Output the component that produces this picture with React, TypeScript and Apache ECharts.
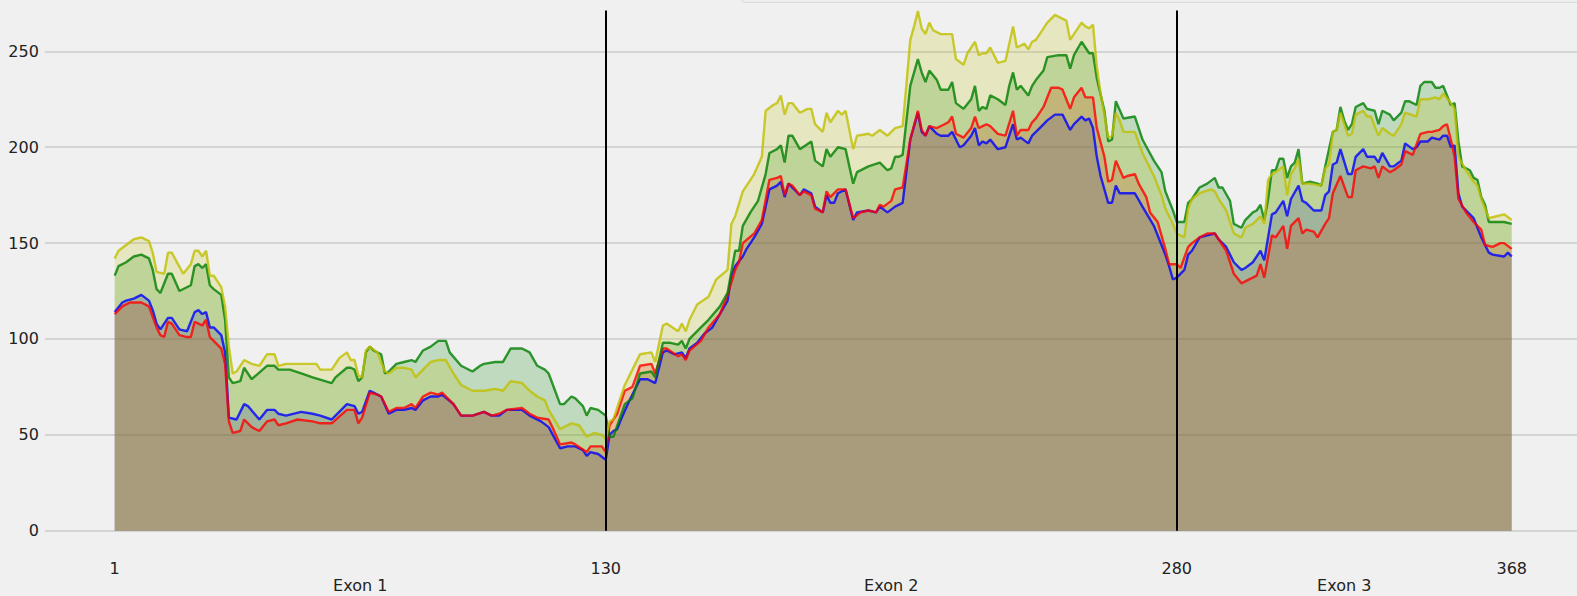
import React, { useEffect, useRef } from "react";
import * as echarts from "echarts";

// x tick labels (positions along the transcript) and exon annotations
const tickPositions = [1, 130, 280, 368];
const exonNames = ["Exon 1", "Exon 2", "Exon 3"];
const exonCenters = [65.5, 205, 324];
const exonBoundaries = [130, 280];

// coverage per position, [position, depth]
const blueCov: [number, number][] = [[1,114],[3,119],[4,120],[6,121],[8,123],[10,120],[11,115],[12,108],[13,105],[15,111],[16,111],[18,105],[20,104],[22,114],[23,115],[24,113],[25,114],[26,106],[27,106],[29,102],[30,93],[31,59],[33,58],[35,66],[36,65],[39,58],[41,63],[43,63],[44,61],[46,60],[50,62],[53,61],[55,60],[58,58],[62,66],[64,65],[65,61],[66,62],[68,73],[69,72],[71,70],[73,61],[75,63],[77,63],[79,64],[80,63],[82,68],[84,70],[86,70],[87,71],[90,66],[92,60],[95,60],[98,62],[100,60],[102,60],[104,63],[108,63],[110,60],[113,57],[115,54],[118,43],[120,44],[122,44],[124,42],[125,39],[126,41],[128,40],[130,37],[131,50],[132,52],[133,53],[134,58],[136,67],[137,71],[139,79],[141,79],[143,77],[145,93],[146,94],[148,92],[150,93],[151,90],[152,95],[154,98],[156,103],[158,106],[160,113],[162,120],[163,133],[164,138],[166,143],[167,147],[169,153],[171,160],[173,178],[175,180],[176,182],[177,174],[178,181],[179,179],[181,175],[182,178],[184,176],[185,169],[187,166],[188,175],[189,171],[190,171],[191,176],[193,178],[195,162],[196,166],[199,167],[201,166],[202,169],[204,166],[206,169],[208,171],[210,204],[212,218],[213,208],[214,206],[215,211],[217,207],[218,206],[220,206],[221,208],[223,200],[224,201],[226,206],[227,210],[228,201],[229,203],[230,202],[231,204],[233,199],[235,200],[237,212],[238,204],[239,205],[241,202],[242,206],[244,210],[246,214],[248,217],[250,217],[252,209],[253,212],[255,216],[256,214],[257,215],[258,210],[259,195],[260,185],[262,171],[263,171],[264,180],[265,176],[269,176],[271,169],[274,159],[276,149],[277,144],[278,138],[279,131],[280,132],[282,136],[283,144],[284,146],[286,153],[288,154],[290,155],[291,152],[293,148],[295,140],[297,136],[298,137],[300,140],[302,146],[303,141],[305,165],[306,166],[308,172],[309,164],[310,173],[312,180],[313,172],[314,171],[316,167],[318,167],[319,175],[320,177],[321,191],[322,192],[323,199],[325,186],[326,186],[327,195],[329,199],[330,195],[332,195],[333,192],[334,197],[336,190],[337,190],[339,193],[340,202],[342,199],[343,200],[344,203],[346,203],[347,205],[349,204],[350,206],[351,206],[352,200],[353,201],[354,176],[355,169],[358,163],[359,158],[360,153],[362,145],[363,144],[366,143],[367,145],[368,143]];

const redCov: [number, number][] = [[1,113],[3,117],[5,119],[8,119],[10,117],[12,106],[13,102],[14,101],[15,109],[16,108],[18,102],[20,101],[21,101],[22,109],[23,108],[24,107],[25,110],[26,101],[27,99],[29,95],[30,87],[31,57],[32,51],[34,52],[35,58],[37,54],[39,52],[41,57],[43,58],[44,55],[46,56],[49,58],[53,57],[55,56],[58,56],[62,63],[64,63],[65,56],[66,59],[68,72],[70,71],[71,70],[73,62],[75,64],[77,64],[79,66],[80,64],[82,70],[84,72],[86,71],[87,72],[90,66],[92,60],[95,60],[98,62],[100,60],[102,61],[104,63],[108,64],[110,61],[112,59],[115,58],[116,54],[118,45],[121,46],[122,45],[125,41],[126,44],[129,44],[130,41],[131,55],[133,61],[135,73],[137,75],[139,86],[142,87],[143,82],[145,95],[146,95],[149,91],[150,92],[151,89],[152,94],[155,99],[157,106],[160,113],[162,123],[164,136],[165,140],[166,150],[169,155],[171,162],[173,183],[175,184],[176,185],[177,175],[178,181],[179,180],[181,175],[182,177],[184,175],[185,168],[187,166],[188,177],[189,174],[191,178],[193,178],[195,163],[197,166],[199,167],[201,166],[202,170],[203,169],[205,172],[206,178],[208,179],[210,204],[212,219],[213,209],[214,206],[215,211],[217,210],[219,212],[220,213],[221,216],[222,207],[224,205],[226,210],[227,216],[228,210],[229,211],[230,212],[231,211],[233,207],[235,206],[237,219],[238,206],[239,209],[241,209],[242,213],[243,215],[245,221],[247,231],[249,231],[250,230],[252,220],[253,226],[255,231],[256,226],[258,226],[259,210],[261,195],[262,182],[263,183],[264,193],[266,184],[267,185],[269,186],[270,181],[272,174],[273,166],[275,161],[277,147],[278,139],[280,139],[281,137],[283,148],[284,150],[286,153],[288,155],[290,155],[291,152],[293,146],[295,134],[297,129],[298,130],[301,133],[302,139],[303,132],[305,154],[306,153],[308,159],[309,147],[310,159],[312,163],[313,155],[314,157],[316,156],[317,153],[319,160],[320,163],[321,176],[323,185],[325,174],[326,174],[327,188],[329,190],[331,189],[332,190],[333,184],[334,190],[336,187],[337,188],[339,191],[340,198],[342,196],[344,207],[346,208],[347,208],[349,209],[350,211],[351,212],[352,204],[353,195],[354,173],[356,166],[358,161],[360,157],[361,149],[363,148],[365,150],[366,150],[368,147]];

const greenCov: [number, number][] = [[1,133],[2,138],[4,140],[6,143],[8,144],[10,142],[11,136],[12,126],[13,124],[15,134],[16,134],[18,125],[21,128],[22,138],[23,139],[24,137],[25,139],[26,128],[27,126],[29,123],[30,110],[31,80],[32,77],[34,78],[35,85],[37,79],[41,86],[43,86],[44,84],[47,84],[50,82],[53,80],[58,77],[59,80],[62,85],[63,85],[64,84],[65,78],[66,80],[67,93],[68,96],[69,94],[71,92],[72,82],[73,83],[75,87],[77,88],[79,89],[80,88],[82,94],[84,96],[86,99],[88,99],[89,93],[92,86],[95,83],[97,86],[98,87],[101,88],[103,88],[105,95],[108,95],[110,93],[112,86],[114,84],[115,82],[118,66],[119,66],[121,70],[122,69],[124,65],[125,60],[126,64],[128,63],[130,60],[131,49],[132,49],[135,66],[137,69],[139,82],[142,83],[143,80],[145,98],[147,98],[149,97],[150,99],[151,95],[152,100],[155,106],[157,110],[160,117],[162,124],[164,146],[165,146],[166,159],[168,166],[170,172],[172,186],[173,197],[175,199],[176,201],[177,192],[178,206],[179,206],[181,199],[184,203],[185,193],[187,190],[188,199],[189,195],[191,200],[193,199],[195,181],[196,187],[199,190],[202,192],[204,188],[205,189],[206,195],[207,195],[208,196],[210,232],[212,246],[213,239],[214,234],[215,240],[217,235],[218,230],[220,230],[221,234],[222,223],[224,220],[226,225],[227,232],[228,219],[229,221],[230,220],[231,227],[233,225],[235,222],[236,232],[237,239],[238,230],[239,232],[241,227],[242,232],[243,235],[245,240],[246,247],[249,248],[251,248],[252,241],[253,248],[255,255],[257,249],[258,249],[259,236],[261,219],[262,203],[263,204],[264,224],[266,215],[269,216],[271,204],[274,193],[276,187],[277,177],[279,167],[280,161],[282,161],[283,171],[284,173],[286,179],[288,181],[290,184],[291,179],[292,179],[294,172],[295,160],[297,158],[298,162],[300,166],[301,167],[302,170],[303,162],[304,173],[305,188],[306,188],[307,194],[308,194],[309,184],[310,190],[311,192],[312,199],[313,181],[315,182],[317,181],[318,180],[319,190],[321,208],[322,209],[323,221],[324,214],[325,209],[326,212],[327,221],[329,223],[330,220],[332,219],[333,212],[334,219],[336,217],[337,214],[339,218],[340,224],[341,224],[343,222],[344,232],[345,234],[347,234],[348,231],[349,231],[350,232],[351,227],[352,222],[353,223],[354,203],[355,190],[357,188],[358,184],[359,183],[360,174],[361,170],[362,161],[364,161],[366,161],[368,160]];

const yellowCov: [number, number][] = [[1,142],[2,146],[4,149],[6,152],[8,153],[10,151],[11,145],[12,135],[14,134],[15,145],[16,145],[19,134],[21,139],[22,146],[23,146],[24,143],[25,146],[26,133],[27,133],[29,127],[30,117],[31,96],[32,82],[33,83],[35,89],[37,87],[39,86],[41,92],[43,92],[44,86],[46,87],[49,87],[51,87],[54,87],[55,84],[58,84],[60,90],[62,93],[63,89],[64,89],[65,81],[66,80],[67,94],[68,96],[70,93],[72,83],[73,82],[75,85],[77,85],[79,84],[80,80],[82,84],[84,88],[86,89],[88,89],[90,82],[92,76],[95,73],[98,73],[101,74],[103,73],[105,78],[108,77],[110,73],[112,70],[114,68],[115,63],[118,53],[119,54],[121,56],[123,55],[125,49],[127,51],[129,50],[130,48],[131,57],[132,58],[135,76],[137,84],[139,92],[142,93],[143,88],[145,107],[146,108],[149,104],[150,108],[151,104],[152,110],[154,118],[157,122],[159,131],[162,136],[163,160],[164,164],[166,177],[169,186],[171,195],[172,219],[174,222],[175,223],[176,227],[177,217],[178,223],[179,223],[181,218],[183,220],[184,220],[185,212],[187,208],[188,218],[189,213],[191,219],[192,217],[193,219],[195,199],[196,206],[199,207],[200,206],[202,209],[204,206],[205,208],[206,210],[208,211],[209,233],[210,256],[211,263],[212,271],[213,262],[214,259],[215,265],[216,261],[218,259],[220,259],[221,259],[222,246],[224,243],[225,249],[227,255],[228,248],[229,249],[230,249],[231,252],[233,244],[235,245],[236,254],[237,263],[238,252],[240,254],[241,251],[242,255],[243,256],[246,265],[248,269],[249,268],[251,266],[252,256],[253,259],[255,265],[256,263],[257,262],[258,264],[259,242],[260,228],[262,205],[263,206],[264,218],[265,214],[266,208],[269,208],[271,197],[274,185],[275,180],[276,175],[277,168],[279,160],[280,155],[282,153],[283,168],[284,173],[286,176],[289,178],[290,177],[291,173],[293,167],[295,155],[297,153],[298,158],[300,160],[302,164],[303,160],[304,183],[305,186],[306,187],[308,190],[309,175],[310,186],[311,189],[312,194],[313,181],[315,181],[318,180],[319,189],[320,191],[321,208],[322,209],[323,218],[325,206],[326,207],[327,217],[329,219],[330,216],[331,216],[333,206],[334,210],[336,207],[337,206],[339,212],[340,218],[343,216],[344,225],[346,225],[348,226],[349,225],[350,228],[352,223],[353,220],[354,195],[356,188],[358,182],[359,180],[360,173],[362,163],[364,164],[366,165],[368,162]];

const FONT = "DejaVu Sans";

export default function App() {
  const ref = useRef<HTMLDivElement>(null);
  useEffect(() => {
    if (!ref.current) return;
    const chart = echarts.init(ref.current, null, { renderer: "svg" });
    const mk = (name: string, data: [number, number][], color: string, extra: any = {}) => ({
      type: "line",
      name,
      data,
      symbol: "none",
      showSymbol: false,
      silent: true,
      lineStyle: { color, width: 2.4, opacity: 0.8 },
      itemStyle: { color },
      areaStyle: { color, opacity: 0.2 },
      emphasis: { disabled: true },
      ...extra,
    });
    const option: any = {
      animation: false,
      backgroundColor: "#f0f0f0",
      textStyle: { fontFamily: FONT },
      grid: { left: 44.85, right: 0, top: 10.5, bottom: 65.3, containLabel: false, outerBoundsMode: "none" },
      xAxis: [
        {
          type: "value",
          min: -17.35,
          max: 385.15,
          axisLine: { show: false },
          axisTick: { show: false },
          splitLine: { show: false },
          axisLabel: {
            customValues: tickPositions,
            margin: 30,
            fontFamily: FONT,
            fontSize: 16,
            color: "#222",
            formatter: (v: number) => String(Math.round(v)),
          },
        },
        {
          type: "value",
          gridIndex: 0,
          position: "bottom",
          min: -17.35,
          max: 385.15,
          axisLine: { show: false },
          axisTick: { show: false },
          splitLine: { show: false },
          axisLabel: {
            customValues: exonCenters,
            margin: 50,
            lineHeight: 10,
            fontFamily: FONT,
            fontSize: 16,
            color: "#222",
            formatter: (v: number) => {
              let best = 0;
              exonCenters.forEach((c, i) => {
                if (Math.abs(c - v) < Math.abs(exonCenters[best] - v)) best = i;
              });
              return exonNames[best];
            },
          },
        },
      ],
      yAxis: {
        type: "value",
        min: 0,
        max: 271.3,
        interval: 50,
        axisLine: { show: false },
        axisTick: { show: false },
        axisLabel: {
          margin: 6,
          fontFamily: FONT,
          fontSize: 16,
          color: "#222",
          showMaxLabel: false,
        },
        splitLine: { show: true, showMaxLine: false, lineStyle: { color: "#cbcbcb", width: 1.5 } },
      },
      graphic: [
        {
          type: "rect",
          shape: { x: 741, y: -40, width: 900, height: 42.3, r: 4 },
          style: { fill: "#f0f0f0", stroke: "#dcdcdc", lineWidth: 1.2 },
          z: 100,
        },
      ],
      series: [
        mk("blue", blueCov, "#0000ff"),
        mk("red", redCov, "#ff0000"),
        mk("green", greenCov, "#008000"),
        mk("yellow", yellowCov, "#bfbf00", {
          markLine: {
            silent: true,
            symbol: ["none", "none"],
            label: { show: false },
            lineStyle: { color: "#000", width: 2, type: "solid", opacity: 1 },
            emphasis: { disabled: true },
            data: exonBoundaries.map((x) => ({ xAxis: x })),
          },
        }),
      ],
    };
    chart.setOption(option);
    return () => chart.dispose();
  }, []);
  return (
    <div
      ref={ref}
      style={{ position: "fixed", left: 0, top: 0, width: 1577, height: 596 }}
    />
  );
}
